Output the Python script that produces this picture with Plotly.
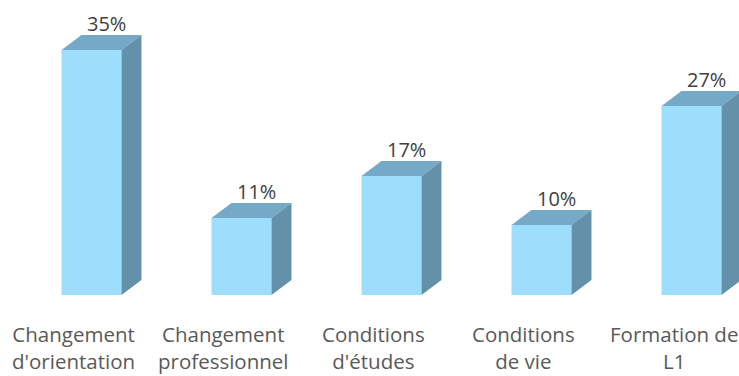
import plotly.graph_objects as go

# Survey answers and their shares (%)
categories = [
    "Changement<br>d'orientation",
    "Changement<br>professionnel",
    "Conditions<br>d'études",
    "Conditions<br>de vie",
    "Formation de<br>L1",
]
values = [35, 11, 17, 10, 27]
value_labels = ["35%", "11%", "17%", "10%", "27%"]

# Box geometry (in axis units)
BAR_W = 0.4      # front face width
DEPTH_X = 0.133  # horizontal depth offset
DEPTH_Y = 2.15   # vertical depth offset (in %)

FRONT = "#9cdefc"
TOP = "#74a9c7"
SIDE = "#6590a9"

positions = list(range(len(values)))

fig = go.Figure()

# Front faces
fig.add_trace(go.Bar(
    x=positions, y=values, width=BAR_W,
    marker=dict(color=FRONT, line=dict(width=0)),
    hoverinfo="skip",
))

# Top and side faces as filled polygons derived from each value
top_x, top_y, side_x, side_y = [], [], [], []
for p, v in zip(positions, values):
    x0, x1 = p - BAR_W / 2, p + BAR_W / 2
    top_x += [x0, x1, x1 + DEPTH_X, x0 + DEPTH_X, x0, None]
    top_y += [v, v, v + DEPTH_Y, v + DEPTH_Y, v, None]
    side_x += [x1, x1, x1 + DEPTH_X, x1 + DEPTH_X, x1, None]
    side_y += [0, v, v + DEPTH_Y, DEPTH_Y, 0, None]

fig.add_trace(go.Scatter(x=top_x, y=top_y, fill="toself", fillcolor=TOP,
                         mode="lines", line=dict(width=0), hoverinfo="skip"))
fig.add_trace(go.Scatter(x=side_x, y=side_y, fill="toself", fillcolor=SIDE,
                         mode="lines", line=dict(width=0), hoverinfo="skip"))

FONT = "Open Sans"
annotations = []
for p, v, t in zip(positions, values, value_labels):
    annotations.append(dict(
        x=p + DEPTH_X - 0.03, y=v + DEPTH_Y, text=t, showarrow=False,
        xref="x", yref="y", yanchor="middle", yshift=11,
        font=dict(family=FONT, size=20, color="#404040"),
    ))
for p, c in zip(positions, categories):
    annotations.append(dict(
        x=p - 0.12, y=-7.55, text=c, showarrow=False,
        xref="x", yref="y", yanchor="middle", borderpad=0,
        font=dict(family=FONT, size=20.5, color="#595959"),
    ))

fig.update_layout(
    width=739, height=376,
    margin=dict(l=0, r=0, t=0, b=0),
    paper_bgcolor="white", plot_bgcolor="white",
    showlegend=False, hovermode=False,
    xaxis=dict(range=[-0.61, 4.3167], visible=False, fixedrange=True),
    yaxis=dict(range=[-11.571, 42.143], visible=False, fixedrange=True),
    annotations=annotations,
)

fig.write_html("out.html")
